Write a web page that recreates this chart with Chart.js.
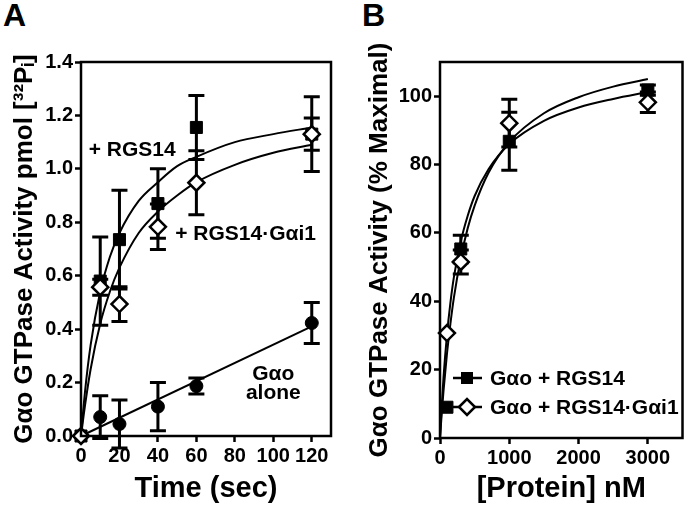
<!DOCTYPE html>
<html>
<head>
<meta charset="utf-8">
<script src="https://cdn.jsdelivr.net/npm/chart.js@4"></script>
<style>
  body { margin: 0; background: #fff; width: 693px; height: 506px; overflow: hidden; position: relative; }
  .panel { position: absolute; top: 0; }
  .tag { position: absolute; top: -3px; font: bold 32px "Liberation Sans", Arial, sans-serif; color: #000; }
</style>
</head>
<body>
<div class="tag" style="left:3px">A</div>
<div class="tag" style="left:362px">B</div>
<div class="panel" style="left:0"><canvas id="chartA" width="346" height="506"></canvas></div>
<div class="panel" style="left:346px"><canvas id="chartB" width="347" height="506"></canvas></div>
<script>
// ---- Panel A: time course ----
const timeA = [0, 10, 20, 40, 60, 120];
const rgs14A = [0, 0.58, 0.735, 0.87, 1.155, 1.13];
const rgs14ErrA = [0, 0.165, 0.185, 0.13, 0.12, 0.06];
const complexA = [0, 0.557, 0.494, 0.783, 0.948, 1.13];
const complexErrA = [0, 0.03, 0.065, 0.085, 0.12, 0.14];
const aloneA = [0, 0.071, 0.045, 0.11, 0.187, 0.423];
const aloneErrA = [0, 0.08, 0.09, 0.09, 0.03, 0.077];

// fitted curves
const fitTimeA = [0, 2, 5, 10, 15, 20, 30, 40, 50, 60, 80, 100, 120];
const rgs14FitA = [0, 0.16, 0.34, 0.54, 0.67, 0.76, 0.88, 0.95, 1.01, 1.045, 1.10, 1.13, 1.155];
const complexFitA = [0, 0.11, 0.25, 0.42, 0.54, 0.63, 0.76, 0.84, 0.90, 0.95, 1.015, 1.06, 1.09];
const aloneFitTimeA = [0, 120];
const aloneFitA = [0, 0.41];

const xTicksA = [0, 20, 40, 60, 80, 100, 120];
const yTicksA = [0, 0.2, 0.4, 0.6, 0.8, 1.0, 1.2, 1.4];

// ---- Panel B: concentration dependence ----
const proteinB = [100, 300, 1000, 3000];
const rgs14B = [9, 55.3, 86.8, 101.8];
const rgs14ErrB = [0, 4, 8.5, 1.5];
const complexB = [30.7, 51.5, 92.1, 98.2];
const complexErrB = [0, 3.5, 7, 3];

const fitProteinB = [0, 25, 50, 100, 150, 200, 300, 400, 500, 700, 1000, 1500, 2000, 2500, 3000];
const rgs14FitB = [0, 9.5, 17.5, 30, 39.5, 47, 57.5, 65, 70.8, 78.6, 86.0, 92.8, 96.7, 99.2, 101.2];
const complexFitB = [0, 7.2, 13.6, 24.5, 33.4, 41, 52.6, 61.4, 68, 77.6, 86.6, 95.0, 99.7, 102.8, 105.0];

const xTicksB = [0, 1000, 2000, 3000];
const yTicksB = [0, 20, 40, 60, 80, 100];

Chart.defaults.font.family = '"Liberation Sans", Arial, sans-serif';
Chart.defaults.font.weight = 'bold';
Chart.defaults.color = '#000';

const pts = (xs, ys) => xs.map((x, i) => ({ x: x, y: ys[i] }));

// marker styles
const square = { pointStyle: 'rect', pointRadius: 8.5, backgroundColor: '#000', borderColor: '#000', borderWidth: 1 };
const diamond = { pointStyle: 'rectRot', pointRadius: 8, backgroundColor: '#fff', borderColor: '#000', borderWidth: 2.5 };
const circle = { pointStyle: 'circle', pointRadius: 6.5, backgroundColor: '#000', borderColor: '#000', borderWidth: 1 };

const markers = (data, errors, style, order) => Object.assign({
  type: 'scatter', data: data, errors: errors, showLine: false, clip: false, order: order
}, style);

const fitLine = (data) => ({
  type: 'line', data: data, borderColor: '#000', borderWidth: 2, pointRadius: 0,
  cubicInterpolationMode: 'monotone', fill: false, clip: false, order: 10
});

// error bars, frame, text labels and legend
const extras = {
  id: 'extras',
  beforeDatasetsDraw(chart) {
    const ctx = chart.ctx, xs = chart.scales.x, ys = chart.scales.y;
    ctx.save();
    ctx.strokeStyle = '#000';
    ctx.lineWidth = 3;
    chart.data.datasets.forEach(ds => {
      if (!ds.errors) return;
      ds.data.forEach((p, i) => {
        const e = ds.errors[i];
        if (!e) return;
        const px = xs.getPixelForValue(p.x);
        const top = ys.getPixelForValue(p.y + e), bot = ys.getPixelForValue(p.y - e);
        ctx.beginPath();
        ctx.moveTo(px, top); ctx.lineTo(px, bot);
        ctx.moveTo(px - 8, top); ctx.lineTo(px + 8, top);
        ctx.moveTo(px - 8, bot); ctx.lineTo(px + 8, bot);
        ctx.stroke();
      });
    });
    ctx.restore();
  },
  afterDraw(chart, args, opts) {
    const ctx = chart.ctx, a = chart.chartArea;
    const xs = chart.scales.x, ys = chart.scales.y;
    ctx.save();
    ctx.strokeStyle = '#000';
    ctx.lineWidth = 2.5;
    ctx.strokeRect(a.left, a.top, a.right - a.left, a.bottom - a.top);
    ctx.fillStyle = '#000';
    ctx.font = 'bold 21px "Liberation Sans", Arial, sans-serif';
    ctx.textBaseline = 'alphabetic';
    (opts.labels || []).forEach(l => {
      ctx.textAlign = l.align;
      ctx.fillText(l.text, xs.getPixelForValue(l.x), ys.getPixelForValue(l.y));
    });
    (opts.legend || []).forEach((row, i) => {
      const y = a.bottom - 60 + i * 29;
      const cx = a.left + 27;
      ctx.lineWidth = 2.5;
      ctx.beginPath();
      ctx.moveTo(a.left + 13, y); ctx.lineTo(a.left + 42, y);
      ctx.stroke();
      ctx.beginPath();
      if (row.marker === 'square') {
        ctx.rect(cx - 6, y - 6, 12, 12);
        ctx.fillStyle = '#000';
        ctx.fill();
      } else {
        ctx.moveTo(cx - 8, y); ctx.lineTo(cx, y - 8); ctx.lineTo(cx + 8, y); ctx.lineTo(cx, y + 8);
        ctx.closePath();
        ctx.fillStyle = '#fff';
        ctx.fill();
        ctx.stroke();
      }
      ctx.fillStyle = '#000';
      ctx.textAlign = 'left';
      ctx.textBaseline = 'middle';
      ctx.fillText(row.text, a.left + 50, y + 1);
    });
    ctx.restore();
  }
};

const axis = (min, max, ticks, size, title, fmt, titleSize, titlePad) => ({
  type: 'linear', min: min, max: max,
  afterBuildTicks: s => { s.ticks = ticks.map(v => ({ value: v })); },
  afterFit: s => { if (s.isHorizontal()) s.height = size; else s.width = size; },
  grid: { display: true, drawOnChartArea: false, drawTicks: true, tickLength: 6, tickWidth: 2.5, tickColor: '#000' },
  border: { display: false },
  ticks: { font: { size: 20, weight: 'bold' }, color: '#000', padding: 2, maxRotation: 0, autoSkip: false, callback: fmt },
  title: { display: true, text: title, font: { size: titleSize, weight: 'bold' }, color: '#000', padding: { top: titlePad, bottom: 0 } }
});

const chartA = new Chart(document.getElementById('chartA').getContext('2d'), {
  type: 'scatter',
  data: {
    datasets: [
      markers(pts(timeA, complexA), complexErrA, diamond, 1),
      markers(pts(timeA, rgs14A), rgs14ErrA, square, 2),
      markers(pts(timeA, aloneA), aloneErrA, circle, 3),
      fitLine(pts(fitTimeA, rgs14FitA)),
      fitLine(pts(fitTimeA, complexFitA)),
      fitLine(pts(aloneFitTimeA, aloneFitA))
    ]
  },
  options: {
    responsive: false, animation: false, events: [],
    layout: { padding: { left: 0, right: 15, top: 62, bottom: 0 } },
    scales: {
      x: axis(0, 130, xTicksA, 70, 'Time (sec)', v => v, 29, 0),
      y: axis(0, 1.4, yTicksA, 81, 'Gαo GTPase Activity pmol [³²Pᵢ]', v => v.toFixed(1), 26, 9)
    },
    plugins: {
      legend: { display: false }, tooltip: { enabled: false },
      extras: {
        labels: [
          { text: '+ RGS14', x: 4, y: 1.05, align: 'left' },
          { text: '+ RGS14·Gαi1', x: 49, y: 0.734, align: 'left' },
          { text: 'Gαo', x: 100, y: 0.21, align: 'center' },
          { text: 'alone', x: 100, y: 0.139, align: 'center' }
        ]
      }
    }
  },
  plugins: [extras]
});

const chartB = new Chart(document.getElementById('chartB').getContext('2d'), {
  type: 'scatter',
  data: {
    datasets: [
      markers(pts(proteinB, complexB), complexErrB, diamond, 1),
      markers(pts(proteinB, rgs14B), rgs14ErrB, square, 2),
      fitLine(pts(fitProteinB, rgs14FitB)),
      fitLine(pts(fitProteinB, complexFitB))
    ]
  },
  options: {
    responsive: false, animation: false, events: [],
    layout: { padding: { left: 0, right: 3, top: 62, bottom: 0 } },
    scales: {
      x: axis(0, 3500, xTicksB, 68, '[Protein] nM', v => v, 29, 0),
      y: axis(0, 110, yTicksB, 94, 'Gαo GTPase Activity (% Maximal)', v => v, 26, 18)
    },
    plugins: {
      legend: { display: false }, tooltip: { enabled: false },
      extras: {
        legend: [
          { text: 'Gαo + RGS14', marker: 'square' },
          { text: 'Gαo + RGS14·Gαi1', marker: 'diamond' }
        ]
      }
    }
  },
  plugins: [extras]
});
</script>
</body>
</html>
